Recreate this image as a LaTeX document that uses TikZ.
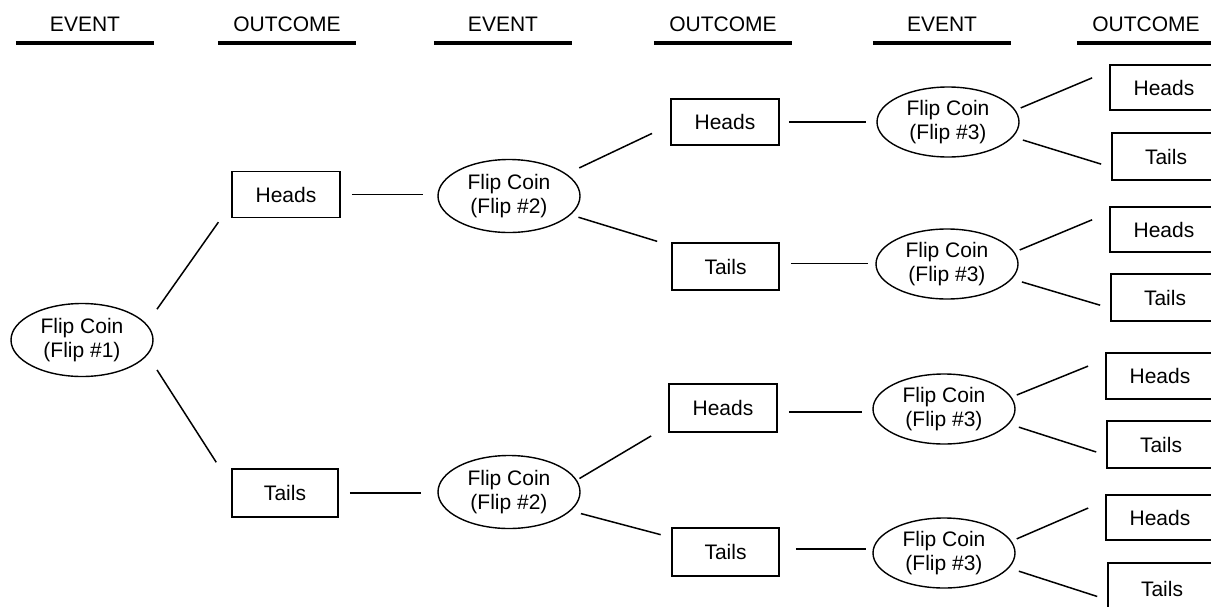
\documentclass[tikz,border=0pt]{standalone}
\usepackage{fontspec}
\setmainfont{Liberation Sans}
\usetikzlibrary{shapes.geometric}

\begin{document}
\begin{tikzpicture}[x=1pt,y=-1pt,
  every node/.style={font=\fontsize{21}{24}\selectfont},
  outcome/.style={draw, line width=1.8pt, minimum width=108pt, minimum height=46pt, inner sep=0pt},
  event/.style={draw, ellipse, line width=1.4pt, minimum width=142pt, minimum height=73pt, inner sep=0pt, align=center},
  event3/.style={event, minimum height=70pt},
  link/.style={line width=1.5pt},
  hdr/.style={anchor=base, minimum width=138pt, inner sep=0pt},
  rule/.style={line width=3.5pt}]

\useasboundingbox (0,0) rectangle (1211,606);
\clip (0,0) rectangle (1211,606);

% column headings
\foreach \n/\x/\t in {1/85/EVENT, 2/287/OUTCOME, 3/503/EVENT, 4/723/OUTCOME, 5/942/EVENT, 6/1146/OUTCOME}{
  \node[hdr] (hd\n) at (\x,31) {\t};
  \draw[rule] ([yshift=-12pt]hd\n.base west) -- ([yshift=-12pt]hd\n.base east);
}

% first flip
\node[event] (e1) at (82,340) {Flip Coin\\(Flip \#1)};
\node[outcome] (h1) at (286,194.5) {Heads};
\node[outcome, minimum width=106pt, minimum height=48pt] (t1) at (285,493) {Tails};

% second flip
\node[event] (e2a) at (509,196) {Flip Coin\\(Flip \#2)};
\node[event] (e2b) at (509,492) {Flip Coin\\(Flip \#2)};
\node[outcome] (ha) at (725,122) {Heads};
\node[outcome, minimum width=107pt, minimum height=47pt] (ta) at (725.5,266.5) {Tails};
\node[outcome, minimum height=48pt] (hb) at (723,408) {Heads};
\node[outcome, minimum width=107pt, minimum height=48pt] (tb) at (725.5,552) {Tails};

% third flip
\node[event3] (e3a) at (948,122) {Flip Coin\\(Flip \#3)};
\node[event3] (e3b) at (947,264) {Flip Coin\\(Flip \#3)};
\node[event3] (e3c) at (944,409) {Flip Coin\\(Flip \#3)};
\node[event3] (e3d) at (944,553) {Flip Coin\\(Flip \#3)};

\node[outcome, minimum height=45pt] (h3a) at (1164,87.5) {Heads};
\node[outcome, minimum height=47pt] (t3a) at (1166,156.5) {Tails};
\node[outcome, minimum height=45pt] (h3b) at (1164,229.5) {Heads};
\node[outcome, minimum height=47pt] (t3b) at (1165,297.5) {Tails};
\node[outcome, minimum height=46pt] (h3c) at (1160,376) {Heads};
\node[outcome, minimum height=47pt] (t3c) at (1161,444.5) {Tails};
\node[outcome, minimum height=45pt] (h3d) at (1160,517.5) {Heads};
\node[outcome, minimum height=52pt] (t3d) at (1162,589) {Tails};

% connectors: first flip
\draw[link, shorten <=18pt, shorten >=22pt] (e1.14) -- (h1.190);
\draw[link, shorten <=17.7pt, shorten >=27.5pt] (e1.-13) -- (t1.172);
\draw[link, shorten <=11pt, shorten >=14pt] (h1.east) -- (h1.east -| e2a.west);
\draw[link, shorten <=11pt, shorten >=16pt] (t1.east) -- (t1.east -| e2b.west);

% connectors: second flip
\draw[link, shorten <=14pt, shorten >=20pt] (e2a.21) -- (ha.183);
\draw[link, shorten <=8pt, shorten >=14.6pt] (e2a.-17) -- (ta.159);
\draw[link, shorten <=3pt, shorten >=19.7pt] (e2b.10) -- (hb.198);
\draw[link, shorten <=10.5pt, shorten >=10.8pt] (e2b.-17) -- (tb.165);

\draw[link, shorten <=9pt, shorten >=10pt] (ha.east) -- (ha.east -| e3a.west);
\draw[link, shorten <=11pt, shorten >=7pt] ([yshift=3pt]ta.east) -- ([yshift=3pt]ta.east -| e3b.west);
\draw[link, shorten <=11pt, shorten >=10pt] ([yshift=-4pt]hb.east) -- ([yshift=-4pt]hb.east -| e3c.west);
\draw[link, shorten <=16pt, shorten >=6pt] ([yshift=3pt]tb.east) -- ([yshift=3pt]tb.east -| e3d.west);

% connectors: third flip
\foreach \g in {a,b,c,d}{
  \draw[link, shorten <=5.6pt, shorten >=18.4pt] (e3\g.10) -- (h3\g.163);
  \draw[link, shorten <=10.3pt, shorten >=10.4pt] (e3\g.-13) -- (t3\g.191);
}
\end{tikzpicture}
\end{document}
